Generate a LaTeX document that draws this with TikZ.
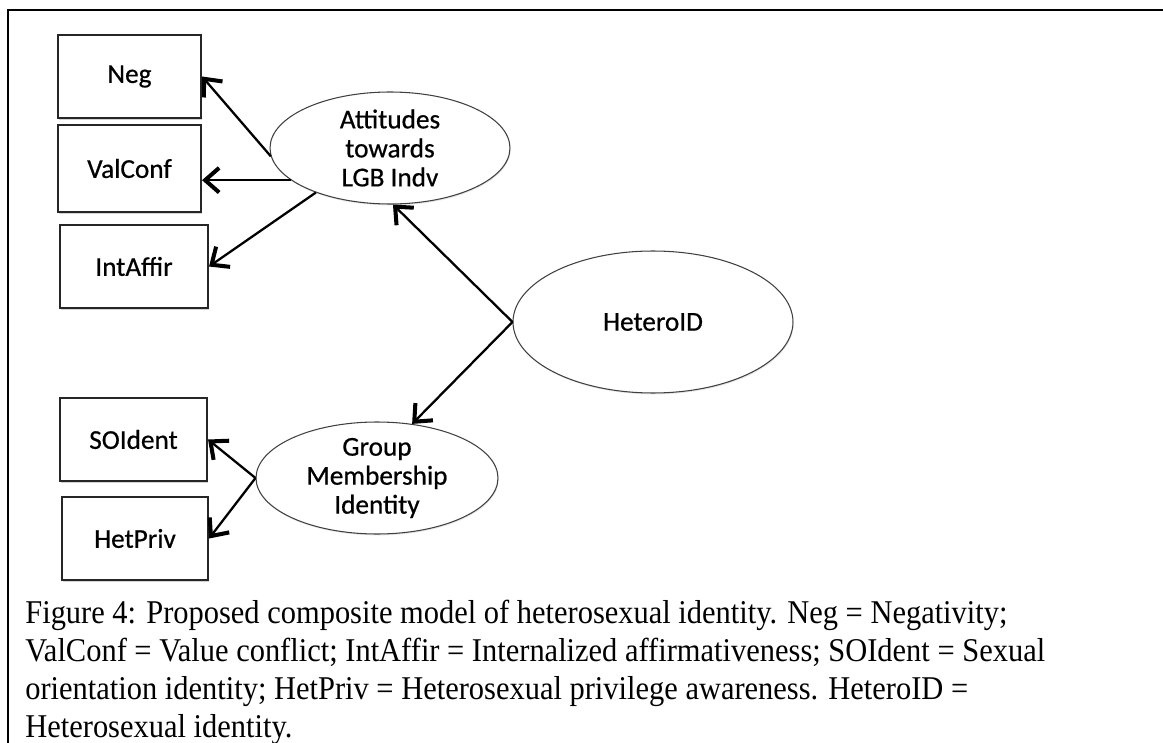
\documentclass[tikz,border=0pt]{standalone}
\usepackage{fontspec}
\setmainfont{Carlito}
\newfontfamily\boxfont[FakeBold=0.6]{Carlito}
\newfontfamily\capfont{Liberation Serif}
\usetikzlibrary{shapes.geometric,arrows.meta,shadows}

% caption lines are set in Times-width serif, condensed to the column width
\newsavebox\caplinebox
\newlength\caplinelen
\newcommand\capsize{\capfont\fontsize{18.9pt}{22pt}\selectfont}

\begin{document}
\sbox\caplinebox{\capsize Figure 4: Proposed composite model of heterosexual identity. Neg = Negativity;}
\setlength\caplinelen{\wd\caplinebox}
\pgfmathsetmacro\capsx{559pt/\caplinelen}
\newcommand\capln[1]{\scalebox{\capsx}[1]{\capsize #1}}

\begin{tikzpicture}[x=0.02cm,y=-0.02cm,
  ind/.style={rectangle, draw=black!85, line width=1.2pt, fill=white, inner sep=0pt,
    font=\boxfont\fontsize{15.5pt}{17pt}\selectfont,
    drop shadow={shadow xshift=0.6pt, shadow yshift=-1.3pt, opacity=0.35}},
  lat/.style={ellipse, draw=black!75, line width=0.6pt, fill=white, inner sep=0pt,
    drop shadow={shadow xshift=0.4pt, shadow yshift=-0.8pt, opacity=0.2}},
  lattext/.style={align=center, font=\boxfont\fontsize{15.5pt}{16.5pt}\selectfont},
  load/.style={line width=1.3pt, -{Straight Barb[length=8pt,width=14pt,line width=2.3pt]}},
  capnode/.style={anchor=base west, inner sep=0pt},
]
\useasboundingbox (0,0) rectangle (1163,743);

% frame
\draw[line width=1.4pt] (8,743) -- (8,10) -- (1163,10);

% indicators
\node[ind, minimum width=2.86cm, minimum height=1.66cm] (neg) at (129.5,76.5) {Neg};
\node[ind, minimum width=2.86cm, minimum height=1.74cm] (val) at (129.5,168.5) {ValConf};
\node[ind, minimum width=2.96cm, minimum height=1.66cm] (int) at (134,266.5) {IntAffir};
\node[ind, minimum width=2.94cm, minimum height=1.66cm] (soi) at (133.5,439.5) {SOIdent};
\node[ind, minimum width=2.92cm, minimum height=1.66cm] (hpv) at (135,538.5) {HetPriv};

% latent variables
\node[lat, minimum width=4.8cm, minimum height=2.24cm,
  label={[lattext]center:Attitudes\\towards\\LGB Indv}] (att) at (390,148) {};
\node[lat, minimum width=4.84cm, minimum height=2.24cm,
  label={[lattext]center:Group\\Membership\\Identity}] (grp) at (377,478) {};
\node[lat, minimum width=5.6cm, minimum height=2.84cm,
  label={[lattext]center:HeteroID}] (het) at (653,322) {};

% paths
\draw[load] (het.west) -- (att.-87);
\draw[load] (het.west) -- (grp.57);
\draw[load] (att.184) -- (neg.east);
\draw[load] (att.198) -- (att.198 -| val.east);
\draw[load] (att.211) -- (int.east);
\draw[load] (grp.west) -- (soi.east);
\draw[load] (grp.west) -- (hpv.east);

% caption
\node[capnode] (c1) at (25,623.5) {\capln{Figure 4: Proposed composite model of heterosexual identity. Neg = Negativity;}};
\node[capnode] (c2) at (25,661.5) {\capln{ValConf = Value conflict; IntAffir = Internalized affirmativeness; SOIdent = Sexual}};
\node[capnode] (c3) at (25,699.3) {\capln{orientation identity; HetPriv = Heterosexual privilege awareness. HeteroID =}};
\node[capnode] (c4) at (25,737) {\capln{Heterosexual identity.}};
\end{tikzpicture}
\end{document}
